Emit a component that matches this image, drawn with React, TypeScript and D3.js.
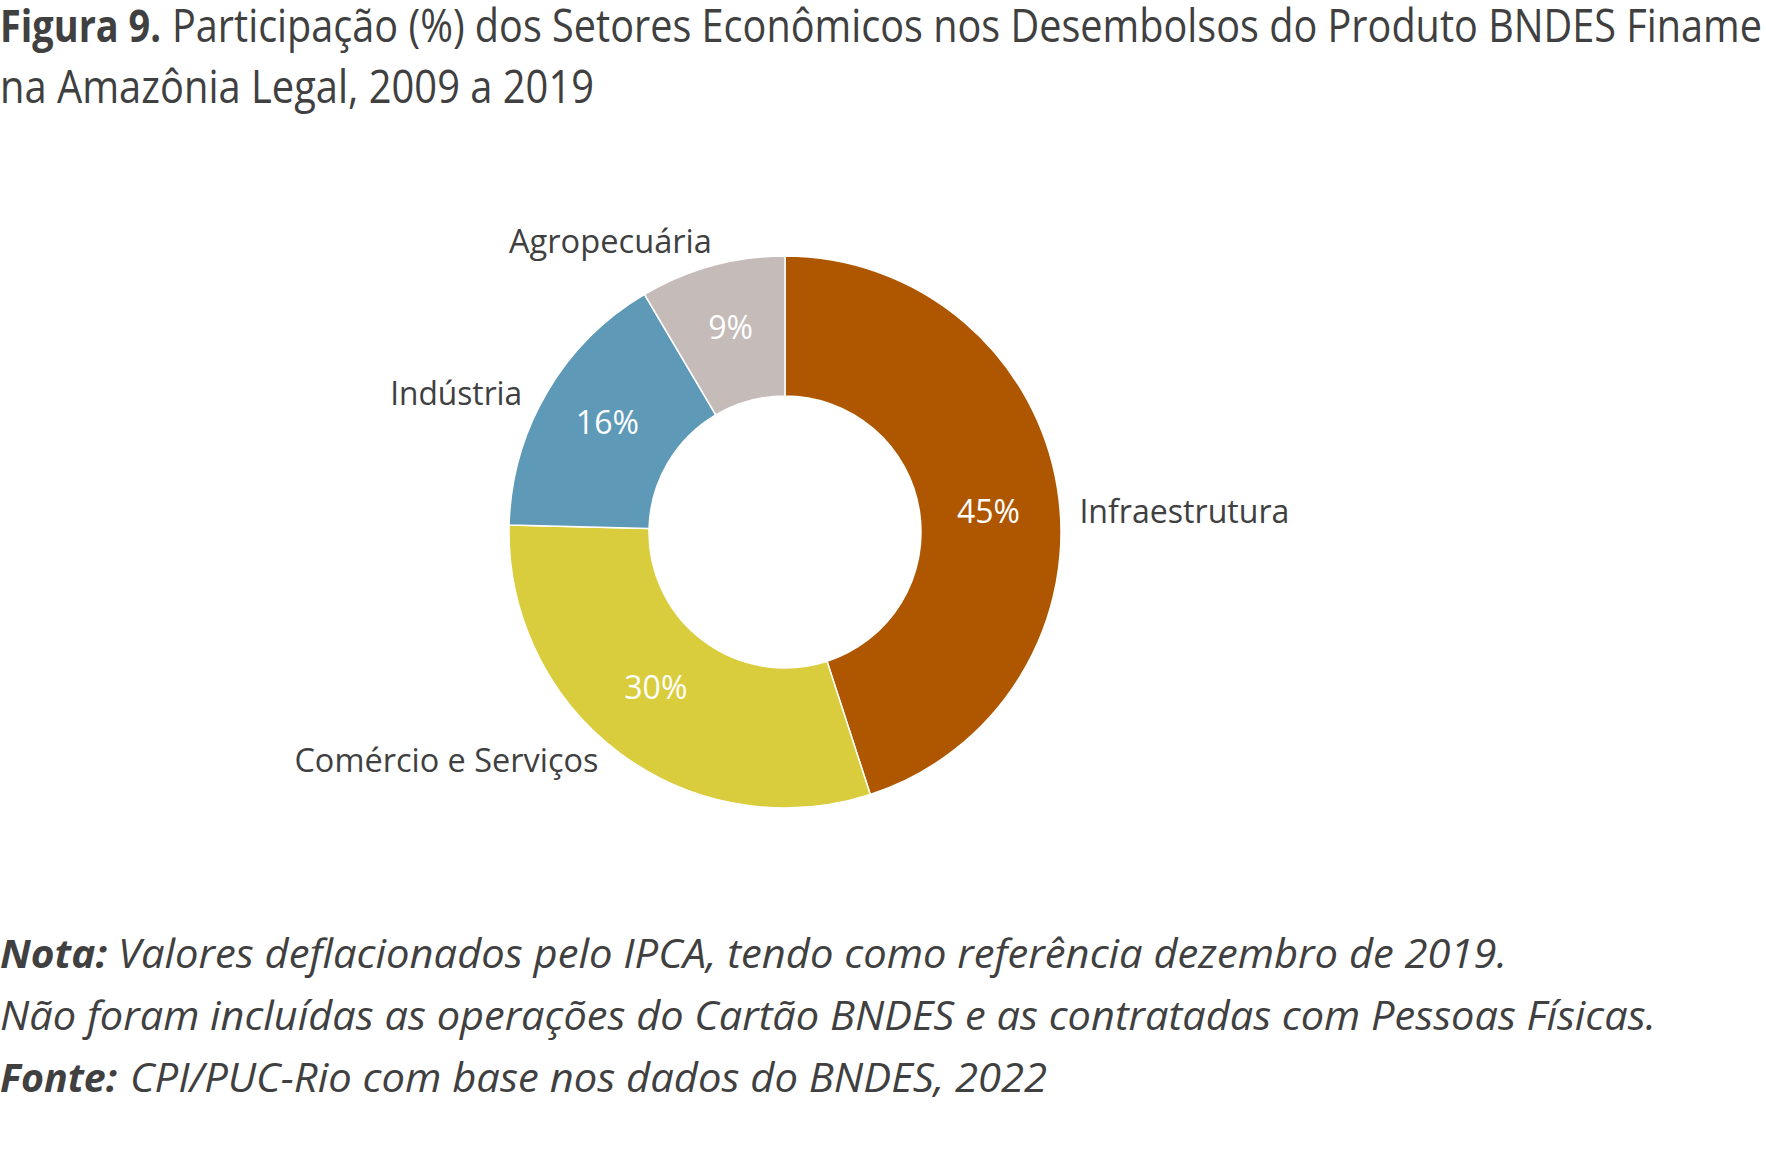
import React from "react";
import * as d3 from "d3";

const categories = ["Infraestrutura", "Comércio e Serviços", "Indústria", "Agropecuária"];
const shares = [45.0, 30.4, 16.1, 8.5];
const colors = ["#AF5700", "#DACD3D", "#5E9AB8", "#C5BBB8"];

const titleBold = "Figura 9.";
const titleLine1 = "Participação (%) dos Setores Econômicos nos Desembolsos do Produto BNDES Finame";
const titleLine2 = "na Amazônia Legal, 2009 a 2019";
const noteBold = ["Nota:", "", "Fonte:"];
const noteText = [
  "Valores deflacionados pelo IPCA, tendo como referência dezembro de 2019.",
  "Não foram incluídas as operações do Cartão BNDES e as contratadas com Pessoas Físicas.",
  "CPI/PUC-Rio com base nos dados do BNDES, 2022",
];

const W = 1766;
const H = 1173;
const FONT = "'Open Sans', 'Noto Sans', sans-serif";
const TXT = "#404040";

// layout tweaks (pixels) to mimic the original label placement
const catLayout: Record<string, { w: number; dx: number; dy: number }> = {
  "Infraestrutura": { w: 210, dx: 6, dy: 25 },
  "Comércio e Serviços": { w: 304, dx: -12, dy: -6 },
  "Indústria": { w: 132, dx: -11, dy: 9 },
  "Agropecuária": { w: 203, dx: 4, dy: -9 },
};
const valLayout = [
  { dx: 0, dy: 17 },
  { dx: -6, dy: -4 },
  { dx: 0, dy: 0 },
  { dx: 0, dy: 0 },
];

export default function App() {
  const cx = 785;
  const cy = 532;
  const outerR = 276;
  const innerR = 136;

  const pie = d3.pie<number>().sort(null).value((d) => d);
  const arcs = pie(shares);
  const arc = d3.arc<d3.PieArcDatum<number>>().innerRadius(innerR).outerRadius(outerR);
  const labelArc = d3.arc<d3.PieArcDatum<number>>().innerRadius(outerR + 16).outerRadius(outerR + 16);

  return (
    <svg width={W} height={H} style={{ position: "absolute", left: 0, top: 0, background: "#fff" }} fontFamily={FONT}>
      <rect width={W} height={H} fill="#fff" />
      {/* Title */}
      <text y={42} fontSize={45} fill={TXT}>
        <tspan x={0} fontWeight={700} textLength={161} lengthAdjust="spacingAndGlyphs">{titleBold}</tspan>
        <tspan x={172} textLength={1590} lengthAdjust="spacingAndGlyphs">{titleLine1}</tspan>
      </text>
      <text x={0} y={103} fontSize={45} fill={TXT} textLength={594} lengthAdjust="spacingAndGlyphs">{titleLine2}</text>

      {/* Donut */}
      <g transform={`translate(${cx},${cy})`}>
        {arcs.map((a, i) => (
          <path key={categories[i]} d={arc(a) || ""} fill={colors[i]} stroke="#fff" strokeWidth={1.5} />
        ))}
        {arcs.map((a, i) => {
          const [x, y] = arc.centroid(a);
          return (
            <text key={"v" + i} x={x + valLayout[i].dx} y={y + 6 + valLayout[i].dy} fontSize={32} fill="#fff" textAnchor="middle">
              {`${Math.round(shares[i])}%`}
            </text>
          );
        })}
        {arcs.map((a, i) => {
          const [x, y] = labelArc.centroid(a);
          const right = x > 0;
          const lay = catLayout[categories[i]];
          return (
            <text
              key={"c" + i}
              x={x + lay.dx}
              y={y + 12 + lay.dy}
              fontSize={32}
              fill={TXT}
              textAnchor={right ? "start" : "end"}
              textLength={lay.w}
              lengthAdjust="spacingAndGlyphs"
            >
              {categories[i]}
            </text>
          );
        })}
      </g>

      {/* Notes */}
      {noteText.map((t, i) => {
        const y = 968 + i * 62;
        const b = noteBold[i];
        const boldW = b === "Nota:" ? 107 : b === "Fonte:" ? 117 : 0;
        const textX = b === "Nota:" ? 118 : b === "Fonte:" ? 130 : 0;
        const textEnd = [1507, 1656, 1047][i];
        return (
          <text key={"n" + i} y={y} fontSize={40} fontStyle="italic" fill={TXT}>
            {b && (
              <tspan x={0} fontWeight={700} textLength={boldW} lengthAdjust="spacingAndGlyphs">{b}</tspan>
            )}
            <tspan x={textX} textLength={textEnd - textX} lengthAdjust="spacingAndGlyphs">{t}</tspan>
          </text>
        );
      })}
    </svg>
  );
}
